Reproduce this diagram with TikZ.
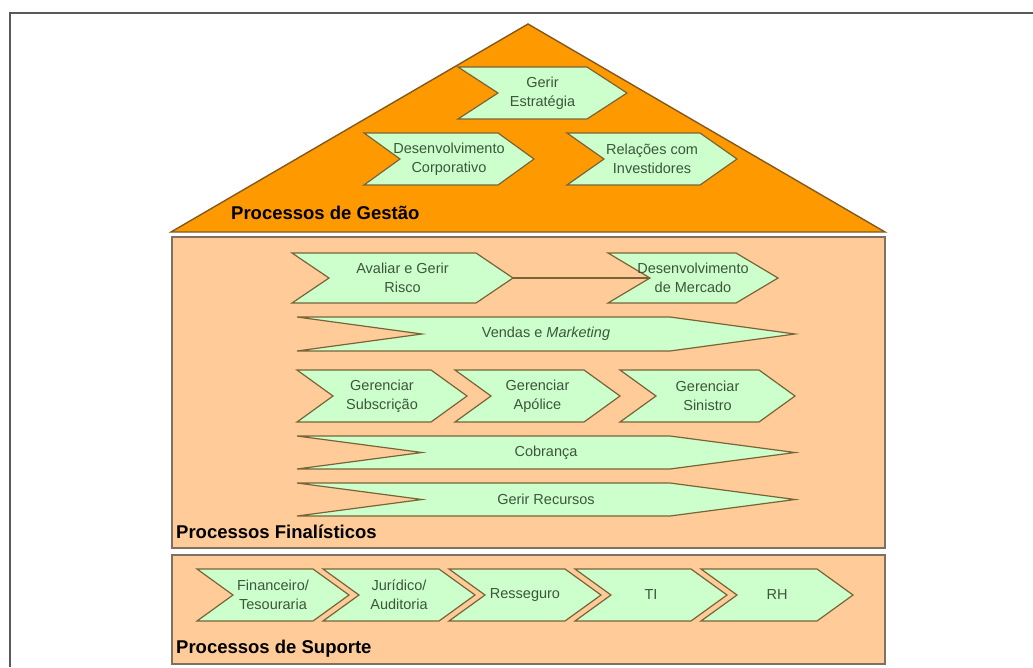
\documentclass[tikz,border=0pt]{standalone}
\usepackage{fontspec}
\setmainfont{Liberation Sans}
\usepackage{xcolor}
\usetikzlibrary{positioning, calc}

\definecolor{gestaoorange}{RGB}{255,153,0}
\definecolor{gestaoedge}{RGB}{130,90,30}
\definecolor{peach}{RGB}{255,204,153}
\definecolor{peachedge}{RGB}{128,112,96}
\definecolor{chevgreen}{RGB}{204,255,204}
\definecolor{chevedge}{RGB}{120,100,55}
\definecolor{chevink}{RGB}{60,85,60}

\tikzset{
  chev/.style={fill=chevgreen, draw=chevedge, line width=1.2pt, line join=miter},
  chevtext/.style={align=center, text=chevink, inner sep=0pt,
    font=\fontsize{14.5}{19}\selectfont},
  seclabel/.style={anchor=west, inner sep=0pt,
    font=\fontsize{18.5}{22}\selectfont\bfseries},
  areabox/.style={fill=peach, draw=peachedge, line width=1.6pt},
  link/.style={draw=chevedge, line width=1.4pt}
}

% chevron: name, left x, top y, width, height, point depth, text
\newcommand\procchev[7]{%
  \draw[chev] (#2,#3) -- ++({#4-#6},0) -- ++(#6,{#5/2}) coordinate (#1-tip)
    -- ++(-#6,{#5/2}) -- ++({#6-#4},0) -- ++(#6,{-#5/2}) coordinate (#1-notch)
    -- cycle;
  \node[chevtext] (#1) at ({#2+#4/2},{#3+#5/2}) {#7};
}

\begin{document}
\begin{tikzpicture}[x=1pt, y=-1pt]
  \useasboundingbox (0,0) rectangle (1033,667);
  % outer frame (runs off the right and bottom edges)
  \draw[line width=2pt, gray!70!black] (1033,13) -- (10,13) -- (10,667);

  %--- Processos de Gestao (roof) ---
  \filldraw[fill=gestaoorange, draw=gestaoedge, line width=1.4pt]
    (171,232) -- (528,24) -- (885,232) -- cycle;
  \procchev{estrategia}{458}{67}{169}{52}{40}{Gerir\\Estratégia}
  \procchev{corporativo}{364}{133}{170}{52}{36}{Desenvolvimento\\Corporativo}
  \procchev{investidores}{567}{133}{170}{52}{37}{Relações com\\Investidores}
  \node[seclabel] (gestao) at (231,213) {Processos de Gestão};

  %--- Processos Finalisticos ---
  \draw[areabox] (172,237) rectangle (885,548);
  \procchev{risco}{292}{253}{221}{50}{37}{Avaliar e Gerir\\Risco}
  \procchev{mercado}{608}{253}{170}{50}{42}{Desenvolvimento\\de Mercado}
  \draw[link] (risco-tip) -- (mercado-notch);
  \procchev{vendas}{297}{317}{498}{34}{125}{Vendas e \textit{Marketing}}
  \procchev{subscricao}{297}{370}{170}{52}{36}{Gerenciar\\Subscrição}
  \procchev{apolice}{455}{370}{165}{52}{36}{Gerenciar\\Apólice}
  \procchev{sinistro}{620}{370}{175}{52}{36}{Gerenciar\\Sinistro}
  \procchev{cobranca}{297}{436}{498}{33}{125}{Cobrança}
  \procchev{recursos}{297}{483}{498}{33}{125}{Gerir Recursos}
  \node[seclabel] (finalisticos) at (176,532) {Processos Finalísticos};

  %--- Processos de Suporte ---
  \draw[areabox] (172,555) rectangle (885,664);
  \procchev{financeiro}{197}{569}{152}{52}{36}{Financeiro/\\Tesouraria}
  \procchev{juridico}{323}{569}{152}{52}{36}{Jurídico/\\Auditoria}
  \procchev{resseguro}{449}{569}{152}{52}{36}{Resseguro}
  \procchev{ti}{575}{569}{152}{52}{36}{TI}
  \procchev{rh}{701}{569}{152}{52}{36}{RH}
  \node[seclabel] (suporte) at (176,649) {Processos de Suporte};
\end{tikzpicture}
\end{document}
